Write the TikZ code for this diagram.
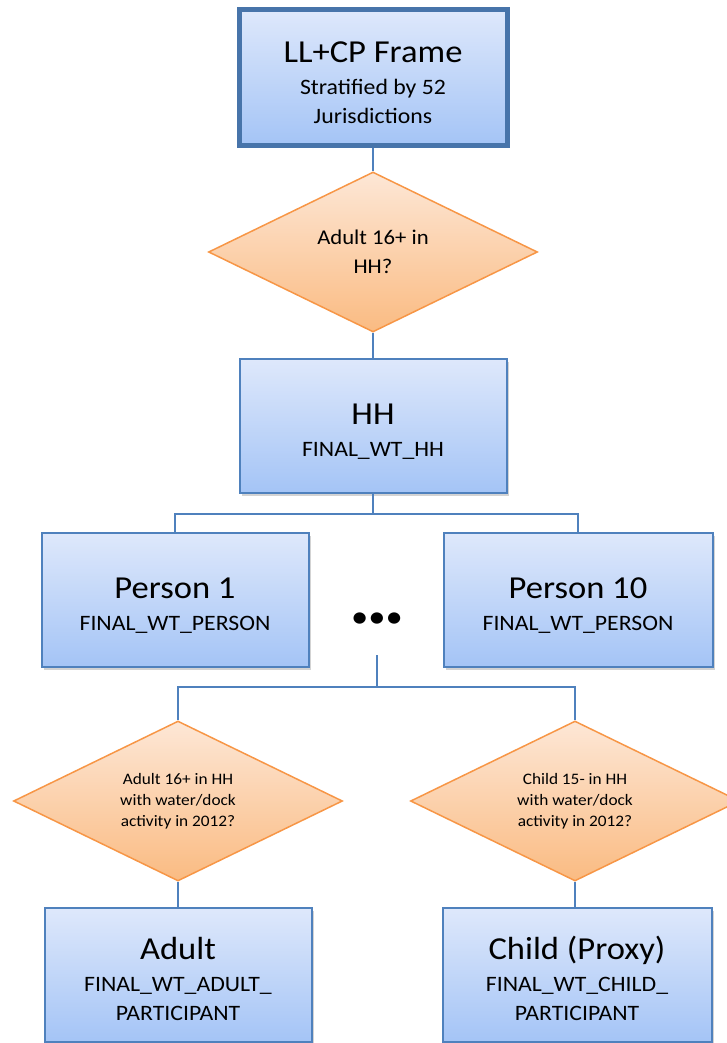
\documentclass[tikz,border=0pt]{standalone}
\usepackage{fontspec}
\setmainfont{Carlito}[FakeStretch=1.08]
\usetikzlibrary{shapes.geometric,shadows}
\definecolor{boxline}{RGB}{79,129,189}
\definecolor{boxtop}{RGB}{222,232,251}
\definecolor{boxbottom}{RGB}{164,196,246}
\definecolor{qline}{RGB}{247,150,70}
\definecolor{qtop}{RGB}{253,231,214}
\definecolor{qbottom}{RGB}{250,187,130}
\newcommand{\bigtxt}{\fontsize{32}{29}\selectfont\rule{0pt}{31pt}}
\newcommand{\subtxt}{\fontsize{22}{29}\selectfont}
\tikzset{
  box/.style={draw=boxline,line width=2pt,top color=boxtop,bottom color=boxbottom,
    minimum width=267pt,minimum height=134pt,inner sep=0pt,align=center,font=\subtxt,
    drop shadow={shadow xshift=2pt,shadow yshift=-3pt,opacity=0.35}},
  decision/.style={diamond,shape aspect=2,draw=qline,line width=1.5pt,top color=qtop,bottom color=qbottom,
    minimum width=329pt,minimum height=160pt,inner sep=0pt,align=center},
  link/.style={draw=boxline,line width=2pt}
}
\begin{document}
\begin{tikzpicture}[x=1pt,y=-1pt]
\useasboundingbox (0,0) rectangle (727,1043);

% top of the tree
\node[box,line width=5pt,draw=boxline!90!black,minimum width=268pt,minimum height=136pt] (frame) at (373,77.5)
  {{\bigtxt LL+CP Frame}\\[3pt]Stratified by 52\\Jurisdictions};
\node[decision,font=\fontsize{21}{29}\selectfont] (q1) at (373,252) {Adult 16+ in\\HH?};
\node[box] (hh) at (373,426) {{\bigtxt HH}\\[3pt]FINAL\_WT\_HH};

% persons
\node[box] (p1) at (175,600) {{\bigtxt Person 1}\\[3pt]FINAL\_WT\_PERSON};
\node[box,minimum width=269pt] (p10) at (578,600) {{\bigtxt Person 10}\\[3pt]FINAL\_WT\_PERSON};
\node[font=\fontsize{32}{32}\selectfont] (dots) at (377,620) {•••};
\coordinate (split) at (377,655);

% participants
\node[decision,font=\fontsize{16}{21}\selectfont] (q2) at (178,801) {Adult 16+ in HH\\with water/dock\\activity in 2012?};
\node[decision,font=\fontsize{16}{21}\selectfont] (q3) at (575,801) {Child 15- in HH\\with water/dock\\activity in 2012?};
\node[box] (adult) at (178,975) {{\bigtxt Adult}\\[3pt]FINAL\_WT\_ADULT\_\\PARTICIPANT};
\node[box,minimum width=269pt] (child) at (577,975) {{\bigtxt Child (Proxy)}\\[3pt]FINAL\_WT\_CHILD\_\\PARTICIPANT};

\draw[link] (frame) -- (q1);
\draw[link] (q1) -- (hh);
\draw[link] (hh.south) -- ++(0,20) -| (p1.north);
\draw[link] (hh.south) -- ++(0,20) -| (p10.north);
\draw[link] (split) -- ++(0,32) -| (q2.north);
\draw[link] (split) -- ++(0,32) -| (q3.north);
\draw[link] (q2) -- (adult);
\draw[link] (q3.south) -- (q3.south |- child.north);

\end{tikzpicture}
\end{document}
